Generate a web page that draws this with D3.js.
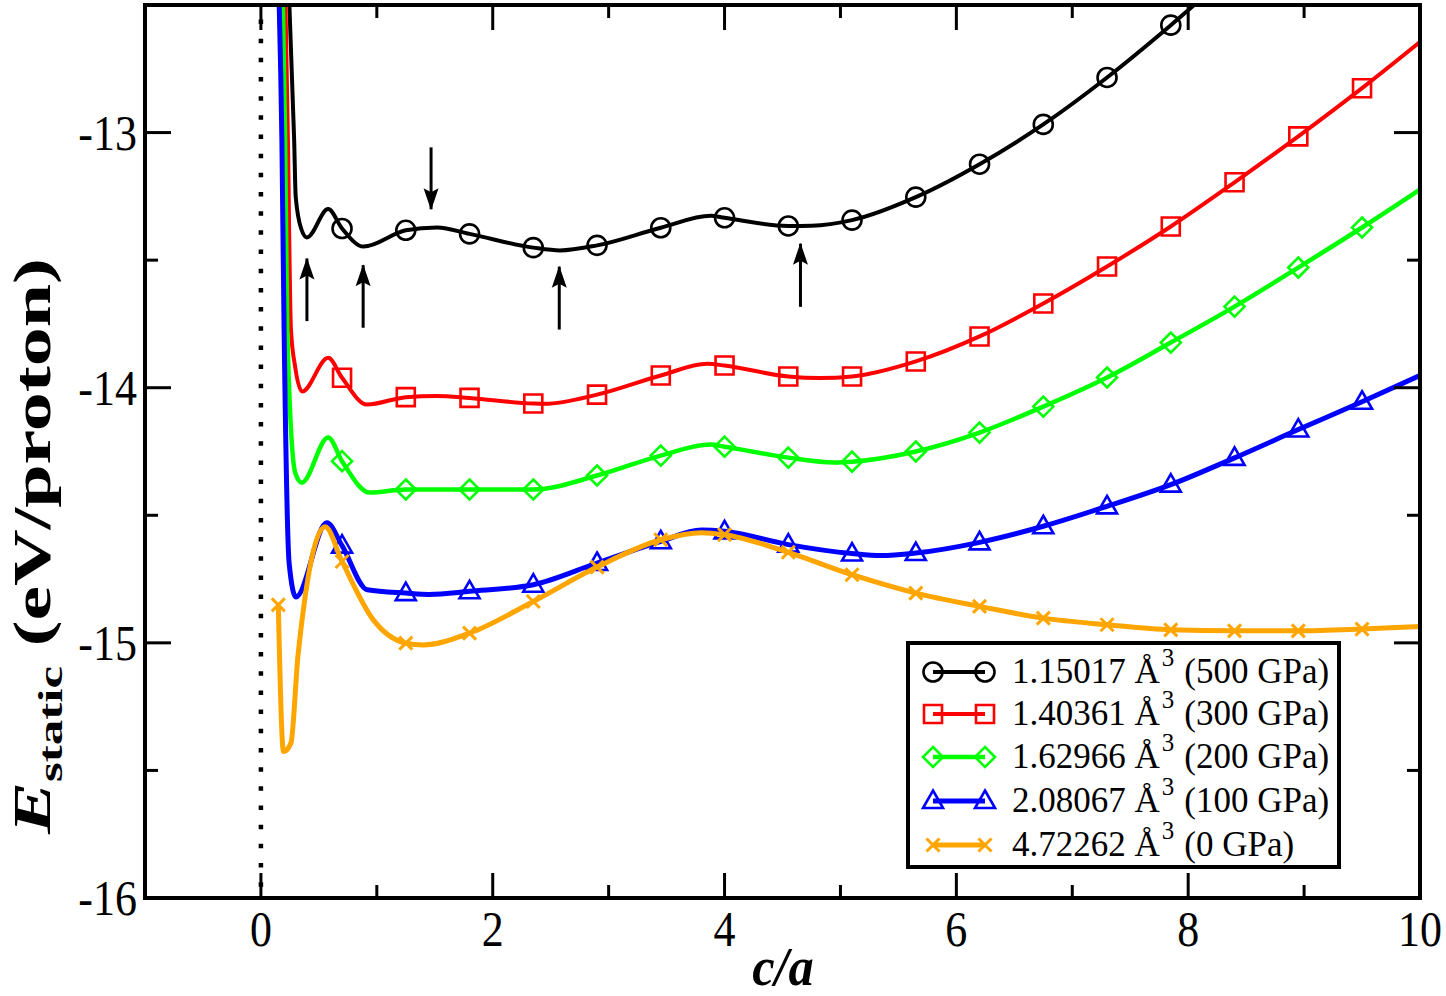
<!DOCTYPE html>
<html>
<head>
<meta charset="utf-8">
<script src="https://cdn.jsdelivr.net/npm/d3@7"></script>
<style>
  body { margin: 0; background: #fff; }
  svg { display: block; }
  text { font-family: "Liberation Serif", "Times New Roman", serif; }
</style>
</head>
<body>
<svg id="chart" width="1446" height="996"></svg>
<script>
// c/a where the markers sit (every few data points)
const markX = [0.15, 0.70, 1.25, 1.80, 2.35, 2.90, 3.45, 4.00, 4.55, 5.10, 5.65, 6.20, 6.75, 7.30, 7.85, 8.40, 8.95, 9.50];

// E_static at the marker positions (null = off the chart)
const blackMarks  = [null, -13.376, -13.383, -13.397, -13.451, -13.442, -13.373, -13.334, -13.366, -13.343, -13.253, -13.124, -12.968, -12.784, -12.579, -12.36, null, null];
const redMarks    = [null, -13.961, -14.037, -14.040, -14.062, -14.027, -13.952, -13.913, -13.956, -13.956, -13.897, -13.799, -13.670, -13.525, -13.368, -13.195, -13.015, -12.826];
const greenMarks  = [null, -14.288, -14.399, -14.399, -14.399, -14.344, -14.266, -14.231, -14.274, -14.290, -14.250, -14.176, -14.074, -13.960, -13.823, -13.682, -13.529, -13.372];
const blueMarks   = [null, -14.619, -14.805, -14.798, -14.772, -14.687, -14.602, -14.563, -14.615, -14.650, -14.648, -14.606, -14.543, -14.465, -14.380, -14.275, -14.164, -14.055];
const orangeMarks = [-14.851, -14.681, -15.001, -14.962, -14.838, -14.703, -14.596, -14.576, -14.645, -14.733, -14.805, -14.857, -14.903, -14.929, -14.949, -14.953, -14.953, -14.946];

// other points of the curves (between markers), [c/a, E]
const blackExtra  = [[0.238, -12.40], [0.287, -13.03], [0.30, -13.25], [0.347, -13.376], [0.397, -13.411], [0.58, -13.30], [0.885, -13.447], [1.52, -13.372], [2.58, -13.462], [3.88, -13.326], [4.75, -13.365]];
const redExtra    = [[0.208, -12.40], [0.233, -13.03], [0.259, -13.77], [0.296, -13.92], [0.356, -14.015], [0.58, -13.883], [0.914, -14.066], [1.52, -14.032], [2.45, -14.063], [3.85, -13.906], [4.82, -13.962], [10.0, -12.645]];
const greenExtra  = [[0.186, -12.40], [0.209, -13.03], [0.227, -13.77], [0.296, -14.333], [0.353, -14.372], [0.58, -14.195], [0.94, -14.411], [3.88, -14.223], [4.95, -14.293], [10.0, -13.223]];
const blueExtra   = [[0.152, -12.40], [0.181, -13.03], [0.20, -13.77], [0.244, -14.69], [0.302, -14.82], [0.569, -14.529], [0.917, -14.792], [1.45, -14.81], [3.80, -14.558], [5.35, -14.658], [10.0, -13.952]];
const orangeExtra = [[0.195, -15.426], [0.259, -15.393], [0.32, -15.05], [0.554, -14.545], [0.97, -14.91], [1.40, -15.008], [3.80, -14.568], [10.0, -14.936]];

const names   = ["1.15017", "1.40361", "1.62966", "2.08067", "4.72262"];
const press   = ["(500 GPa)", "(300 GPa)", "(200 GPa)", "(100 GPa)", "(0 GPa)"];
const colors  = ["#000000", "#ff0000", "#00ff00", "#0000ff", "#ffa500"];
const symbols = ["circle", "square", "diamond", "triangle", "x"];

// arrows on the 500 GPa curve: c/a, tail E, tip E
const arrowX    = [0.397, 0.882, 1.468, 2.574, 4.655];
const arrowTail = [-13.739, -13.765, -13.058, -13.772, -13.683];
const arrowTip  = [-13.478, -13.504, -13.316, -13.510, -13.420];

const xTicks = [0, 2, 4, 6, 8, 10];
const yTicks = [-16, -15, -14, -13];

const svg = d3.select("#chart");
const L = 145, R = 1420, T = 5, B = 898;
const x = d3.scaleLinear().domain([-1, 10]).range([L, R]);
const y = d3.scaleLinear().domain([-16, -12.5]).range([B, T]);

const defs = svg.append("defs");
defs.append("clipPath").attr("id", "clip")
  .append("rect").attr("x", L).attr("y", T).attr("width", R - L).attr("height", B - T);
defs.append("marker").attr("id", "head")
  .attr("viewBox", "0 0 22 16").attr("refX", 21).attr("refY", 8)
  .attr("markerWidth", 22).attr("markerHeight", 16)
  .attr("markerUnits", "userSpaceOnUse").attr("orient", "auto")
  .append("path").attr("d", "M0,0.5L22,8L0,15.5L4,8Z").attr("fill", "#000");

// dotted line at c/a = 0
svg.append("line")
  .attr("x1", x(0)).attr("x2", x(0)).attr("y1", 19.5).attr("y2", B)
  .attr("stroke", "#000").attr("stroke-width", 4.5)
  .attr("stroke-dasharray", "4.5 14.67");

const markSets = [blackMarks, redMarks, greenMarks, blueMarks, orangeMarks];
const extraSets = [blackExtra, redExtra, greenExtra, blueExtra, orangeExtra];
const widths = [4, 4, 4.5, 5, 5];

const series = markSets.map((m, i) => {
  const marks = markX.map((cx, j) => [cx, m[j]]).filter(d => d[1] !== null);
  const pts = marks.concat(extraSets[i]).sort((a, b) => a[0] - b[0]);
  return { marks, pts, color: colors[i], sym: symbols[i], w: widths[i] };
});

const line = d3.line().x(d => x(d[0])).y(d => y(d[1])).curve(d3.curveMonotoneX);

function symPath(s) {
  if (s === "circle") return d3.symbol(d3.symbolCircle, Math.PI * 9.5 * 9.5)();
  if (s === "square") return d3.symbol(d3.symbolSquare, 18 * 18)();
  if (s === "diamond") return "M0,-10L10,0L0,10L-10,0Z";
  if (s === "triangle") return "M0,-10.5L10,7L-10,7Z";
  return "M-6.5,-6.5L6.5,6.5M-6.5,6.5L6.5,-6.5";
}

const plot = svg.append("g").attr("clip-path", "url(#clip)");
series.forEach(s => {
  plot.append("path").datum(s.pts)
    .attr("d", line).attr("fill", "none")
    .attr("stroke", s.color).attr("stroke-width", s.w)
    .attr("stroke-linejoin", "round");
  plot.selectAll(null).data(s.marks).enter().append("path")
    .attr("d", symPath(s.sym))
    .attr("transform", d => `translate(${x(d[0])},${y(d[1])})`)
    .attr("fill", "none").attr("stroke", s.color)
    .attr("stroke-width", s.sym === "x" ? 3 : 2.6);
});

// arrows
arrowX.forEach((ax, i) => {
  svg.append("line")
    .attr("x1", x(ax)).attr("x2", x(ax))
    .attr("y1", y(arrowTail[i])).attr("y2", y(arrowTip[i]) + (arrowTip[i] > arrowTail[i] ? 4 : -4))
    .attr("stroke", "#000").attr("stroke-width", 3)
    .attr("marker-end", "url(#head)");
});

// ticks on all four sides
const ticks = svg.append("g").attr("stroke", "#000").attr("stroke-width", 3);
d3.range(0, 10.01, 1).forEach(v => {
  const len = v % 2 === 0 ? 25 : 13;
  ticks.append("line").attr("x1", x(v)).attr("x2", x(v)).attr("y1", B).attr("y2", B - len);
  ticks.append("line").attr("x1", x(v)).attr("x2", x(v)).attr("y1", T).attr("y2", T + len);
});
d3.range(-16, -12.49, 0.5).forEach(v => {
  const len = Number.isInteger(v) ? 26 : 13;
  ticks.append("line").attr("y1", y(v)).attr("y2", y(v)).attr("x1", L).attr("x2", L + len);
  ticks.append("line").attr("y1", y(v)).attr("y2", y(v)).attr("x1", R).attr("x2", R - len);
});

// frame
svg.append("rect").attr("x", L).attr("y", T).attr("width", R - L).attr("height", B - T)
  .attr("fill", "none").attr("stroke", "#000").attr("stroke-width", 4);

// tick labels (the reference glyphs are a bit taller than wide)
svg.selectAll(".xl").data(xTicks).enter().append("text")
  .attr("transform", d => `translate(${x(d)},946) scale(1,1.15)`)
  .attr("text-anchor", "middle").attr("font-size", 44).text(d => d);
svg.selectAll(".yl").data(yTicks).enter().append("text")
  .attr("transform", d => `translate(137,${y(d) + 17}) scale(1,1.15)`)
  .attr("text-anchor", "end").attr("font-size", 44).text(d => d);

// axis titles
svg.append("text").attr("transform", "translate(783,985) scale(1.05,1.15)")
  .attr("text-anchor", "middle")
  .attr("font-size", 48).attr("font-weight", "bold").attr("font-style", "italic").text("c/a");

const yt = svg.append("text").attr("transform", "translate(50,546) rotate(-90) scale(1.5,1)")
  .attr("text-anchor", "middle").attr("font-size", 52).attr("font-weight", "bold");
yt.append("tspan").attr("font-style", "italic").text("E");
yt.append("tspan").attr("font-size", 34).attr("dy", 12).text("static");
yt.append("tspan").attr("dy", -12).text(" (eV/proton)");

// legend
const lg = svg.append("g");
lg.append("rect").attr("x", 908).attr("y", 643).attr("width", 431).attr("height", 224)
  .attr("fill", "#fff").attr("stroke", "#000").attr("stroke-width", 4);
const rowY = [672, 714, 757, 801, 845];
series.forEach((s, i) => {
  const ry = rowY[i];
  lg.append("line").attr("x1", 933).attr("x2", 985).attr("y1", ry).attr("y2", ry)
    .attr("stroke", s.color).attr("stroke-width", s.w);
  [933, 985].forEach(mx => {
    lg.append("path").attr("d", symPath(s.sym))
      .attr("transform", `translate(${mx},${ry})`)
      .attr("fill", "none").attr("stroke", s.color)
      .attr("stroke-width", s.sym === "x" ? 3 : 2.6);
  });
  const t = lg.append("text").attr("x", 1012).attr("y", ry + 11).attr("font-size", 35);
  t.append("tspan").text(names[i] + " Å");
  t.append("tspan").attr("font-size", 25).attr("dy", -17).attr("dx", 2).text("3");
  t.append("tspan").attr("dy", 17).attr("dx", 10).text(press[i]);
});
</script>
</body>
</html>
